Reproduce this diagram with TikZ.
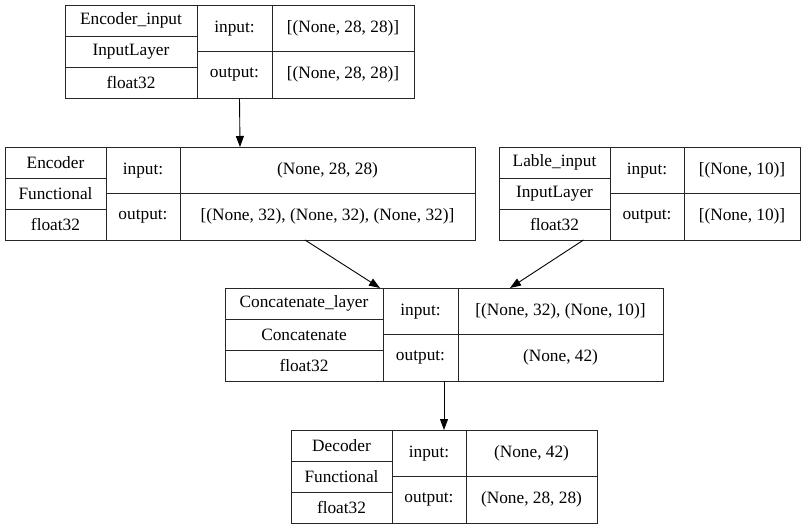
\documentclass[tikz,border=0pt]{standalone}
\usepackage{fontspec}
\setmainfont{Liberation Serif}
\usetikzlibrary{arrows.meta}
\tikzset{
  cell/.style={draw=black!85, line width=0.9pt, inner sep=0pt, outer sep=0pt,
    font=\fontsize{17.3}{20}\selectfont, anchor=center},
  link/.style={draw=black, line width=0.9pt, -{Triangle[length=11pt,width=8pt]}}
}
% \cell{name}{x0}{y0}{x1}{y1}{text}: a ruled box spanning (x0,y0)--(x1,y1)
\newcommand\cell[6]{%
  \node[cell, minimum width={(#4-#2)*1pt}, minimum height={(#5-#3)*1pt}]
    (#1) at ({(#2+#4)/2},{(#3+#5)/2}) {#6};}
\begin{document}
\begin{tikzpicture}[x=1pt, y=-1pt]
\useasboundingbox (0,0) rectangle (805,528);

% Encoder_input
\cell{ein}{65}{5}{414}{98}{}
\cell{ein-n}{65}{5}{197}{36}{Encoder\_input}
\cell{ein-c}{65}{36}{197}{67}{InputLayer}
\cell{ein-d}{65}{67}{197}{98}{float32}
\cell{ein-il}{197}{5}{272}{51.5}{input:}
\cell{ein-ol}{197}{51.5}{272}{98}{output:}
\cell{ein-i}{272}{5}{414}{51.5}{[(None, 28, 28)]}
\cell{ein-o}{272}{51.5}{414}{98}{[(None, 28, 28)]}

% Encoder
\cell{enc}{5}{147}{475}{240}{}
\cell{enc-n}{5}{147}{106}{178}{Encoder}
\cell{enc-c}{5}{178}{106}{209}{Functional}
\cell{enc-d}{5}{209}{106}{240}{float32}
\cell{enc-il}{106}{147}{180}{193.5}{input:}
\cell{enc-ol}{106}{193.5}{180}{240}{output:}
\cell{enc-i}{180}{147}{475}{193.5}{(None, 28, 28)}
\cell{enc-o}{180}{193.5}{475}{240}{[(None, 32), (None, 32), (None, 32)]}

% Lable_input
\cell{lbl}{499}{147}{800}{240}{}
\cell{lbl-n}{499}{147}{610}{178}{Lable\_input}
\cell{lbl-c}{499}{178}{610}{209}{InputLayer}
\cell{lbl-d}{499}{209}{610}{240}{float32}
\cell{lbl-il}{610}{147}{684}{193.5}{input:}
\cell{lbl-ol}{610}{193.5}{684}{240}{output:}
\cell{lbl-i}{684}{147}{800}{193.5}{[(None, 10)]}
\cell{lbl-o}{684}{193.5}{800}{240}{[(None, 10)]}

% Concatenate_layer
\cell{cat}{225}{288}{663}{381}{}
\cell{cat-n}{225}{288}{383}{319}{Concatenate\_layer}
\cell{cat-c}{225}{319}{383}{350}{Concatenate}
\cell{cat-d}{225}{350}{383}{381}{float32}
\cell{cat-il}{383}{288}{458}{334.5}{input:}
\cell{cat-ol}{383}{334.5}{458}{381}{output:}
\cell{cat-i}{458}{288}{663}{334.5}{[(None, 32), (None, 10)]}
\cell{cat-o}{458}{334.5}{663}{381}{(None, 42)}

% Decoder
\cell{dec}{291}{430}{597}{523}{}
\cell{dec-n}{291}{430}{392}{461}{Decoder}
\cell{dec-c}{291}{461}{392}{492}{Functional}
\cell{dec-d}{291}{492}{392}{523}{float32}
\cell{dec-il}{392}{430}{466}{476.5}{input:}
\cell{dec-ol}{392}{476.5}{466}{523}{output:}
\cell{dec-i}{466}{430}{597}{476.5}{(None, 42)}
\cell{dec-o}{466}{476.5}{597}{523}{(None, 28, 28)}

% connections
\draw[link] (ein.south) -- (enc.north);
\draw[link] ([xshift=65pt]enc.south) -- ([xshift=-64pt]cat.north);
\draw[link] ([xshift=-66pt]lbl.south) -- ([xshift=66pt]cat.north);
\draw[link] (cat.south) -- (dec.north);
\end{tikzpicture}
\end{document}
